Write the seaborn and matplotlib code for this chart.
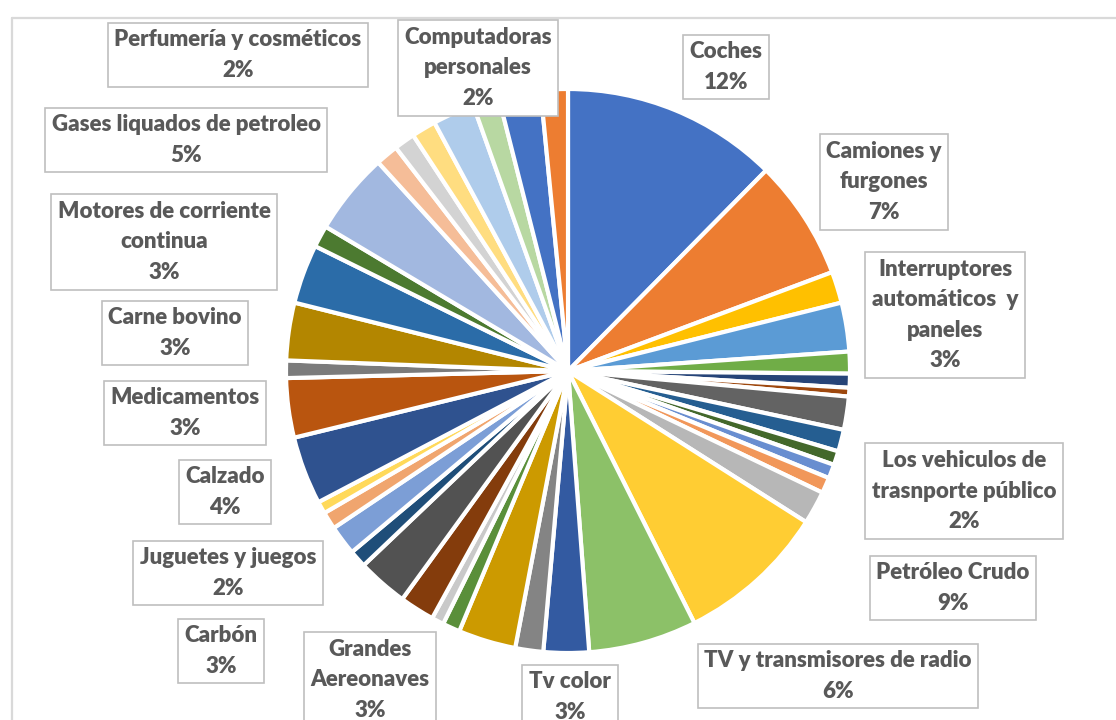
import numpy as np
import matplotlib.pyplot as plt
import seaborn as sns

sns.set_theme(style='white')
plt.rcParams['font.family'] = ['Lato', 'DejaVu Sans']

# slice values in clockwise order starting at 12 o'clock (share of total, %)
categories = [
    'Coches', 'Camiones y\nfurgones', None, 'Interruptores\nautomáticos  y\npaneles', None,
    None, None, None, None, None,
    None, None, 'Los vehiculos de\ntrasnporte público', 'Petróleo Crudo', 'TV y transmisores de radio',
    'Tv color', None, 'Grandes\nAereonaves', None, None,
    None, 'Carbón', None, 'Juguetes y juegos', None,
    None, 'Calzado', 'Medicamentos', None, 'Carne bovino',
    'Motores de corriente\ncontinua', None, 'Gases liquados de petroleo', None, None,
    None, 'Perfumería y cosméticos', None, 'Computadoras\npersonales', None,
]
values = [
    12.4, 6.9, 1.8, 2.8, 1.25,
    0.8, 0.5, 1.9, 1.25, 0.8,
    0.8, 0.9, 1.9, 8.6, 6.2,
    2.6, 1.6, 3.3, 1.0, 0.7,
    2.0, 2.9, 1.0, 1.7, 1.0,
    0.7, 3.9, 3.4, 1.0, 3.3,
    3.4, 1.25, 4.7, 1.3, 1.2,
    1.4, 2.4, 1.5, 2.4, 1.55,
]
colors = [
    '#4472C4', '#ED7D31', '#FFC000', '#5B9BD5', '#70AD47',
    '#264478', '#9E480E', '#636363', '#255E91', '#43682B',
    '#698ED0', '#F1975A', '#B7B7B7', '#FFCD33', '#8CC168',
    '#335AA1', '#848484', '#CC9A00', '#5A8F3A', '#C9C9C9',
    '#843C0C', '#525252', '#1F4E79', '#7C9ED6', '#F0A56E',
    '#FFD95A', '#2F528F', '#B9550F', '#7B7B7B', '#B38600',
    '#2B6CA8', '#4C7A30', '#A2B8E0', '#F5BD98', '#D3D3D3',
    '#FFDD80', '#AFCCEB', '#B8D8A2', '#4472C4', '#ED7D31',
]

# label box centres in pixels (x from left, y from top)
label_pos = {
    0: (726, 67), 1: (884, 182), 3: (945, 315), 12: (964, 491),
    13: (953, 588), 14: (838, 676), 15: (570, 697), 17: (370, 680),
    21: (221, 651), 23: (228, 573), 26: (225, 492), 27: (185, 413),
    29: (175, 333), 30: (164, 242), 32: (186, 140), 36: (238, 55),
    38: (478, 68),
}

W, H = 1116, 720
fig = plt.figure(figsize=(W / 100, H / 100), dpi=100)
ax = fig.add_axes([0, 0, 1, 1])

ax.pie(values, colors=colors, startangle=90, counterclock=False,
       center=(568, H - 371), radius=282,
       wedgeprops={'edgecolor': 'white', 'linewidth': 3})

total = sum(values)
for i, (x, y) in label_pos.items():
    txt = f'{categories[i]}\n{values[i] / total * 100:.0f}%'
    ax.text(x, H - y, txt, ha='center', va='center', fontsize=16,
            fontweight='heavy', color='#595959', linespacing=1.55,
            bbox=dict(boxstyle='square,pad=0.3', facecolor='white',
                      edgecolor='#BFBFBF', linewidth=1.2))

# chart area border
ax.plot([12, W], [H - 18, H - 18], color='#D9D9D9', lw=1.6)
ax.plot([12, 12], [H - 18, 0], color='#D9D9D9', lw=1.6)

ax.set_xlim(0, W)
ax.set_ylim(0, H)
ax.set_aspect('equal')
ax.axis('off')

plt.savefig('out.png', dpi=100, facecolor='white')
plt.close()
